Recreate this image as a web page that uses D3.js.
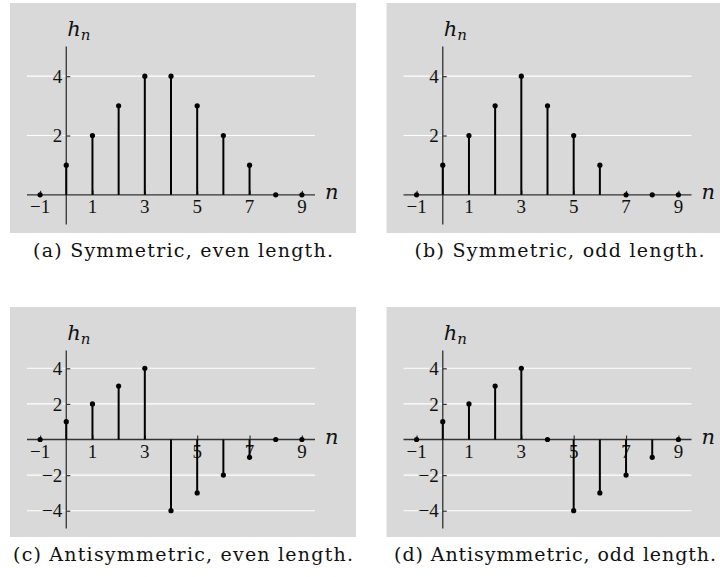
<!DOCTYPE html>
<html>
<head>
<meta charset="utf-8">
<script src="https://cdn.jsdelivr.net/npm/d3@7/dist/d3.min.js"></script>
<style>
  html, body { margin: 0; padding: 0; background: #ffffff; }
  svg { display: block; }
</style>
</head>
<body>
<svg id="chart" width="720" height="577"></svg>
<script>
// ---- data ----
const nValues = [-1, 0, 1, 2, 3, 4, 5, 6, 7, 8, 9];
const symEven  = [0, 1, 2, 3, 4, 4, 3, 2, 1, 0, 0];
const symOdd   = [0, 1, 2, 3, 4, 3, 2, 1, 0, 0, 0];
const antiEven = [0, 1, 2, 3, 4, -4, -3, -2, -1, 0, 0];
const antiOdd  = [0, 1, 2, 3, 4, 0, -4, -3, -2, -1, 0];
const xTicks = [-1, 1, 3, 5, 7, 9];
const yTicksSym = [2, 4];
const yTicksAnti = [-4, -2, 2, 4];
const captions = [
  "(a) Symmetric, even length.",
  "(b) Symmetric, odd length.",
  "(c) Antisymmetric, even length.",
  "(d) Antisymmetric, odd length."
];

const panels = [
  { ox: 10,    oy: 3,   values: symEven,  yDomain: [-1, 5], yTicks: yTicksSym,  caption: captions[0] },
  { ox: 386.5, oy: 3,   values: symOdd,   yDomain: [-1, 5], yTicks: yTicksSym,  caption: captions[1] },
  { ox: 10,    oy: 307, values: antiEven, yDomain: [-5, 5], yTicks: yTicksAnti, caption: captions[2] },
  { ox: 386.5, oy: 307, values: antiOdd,  yDomain: [-5, 5], yTicks: yTicksAnti, caption: captions[3] }
];

const BG = "#d9d9d9";
const AX = "#333333";
const TICKFONT = "'Liberation Serif', serif";
const CAPFONT = "'DejaVu Serif', serif";
const svg = d3.select("#chart");
const fmt = d => (d < 0 ? "\u2212" + Math.abs(d) : String(d));

const capNodes = [];

panels.forEach(p => {
  const g = svg.append("g").attr("transform", `translate(${p.ox},${p.oy})`);
  g.append("rect").attr("x", 0).attr("y", 0).attr("width", 346).attr("height", 230).attr("fill", BG);

  const x = d3.scaleLinear().domain([-1.5, 9.5]).range([17, 305]);
  const y = d3.scaleLinear().domain(p.yDomain).range([221.5, 43.5]);
  const x0 = x(0), y0 = y(0);

  // gridlines
  g.selectAll("line.grid").data(p.yTicks).join("line")
    .attr("class", "grid")
    .attr("x1", x.range()[0]).attr("x2", x.range()[1])
    .attr("y1", d => y(d)).attr("y2", d => y(d))
    .attr("stroke", "#ffffff").attr("stroke-width", 1.1);

  // x axis (ticks inward / up)
  const xAxis = d3.axisTop(x).tickValues(xTicks).tickSize(4).tickFormat("");
  const xa = g.append("g").attr("transform", `translate(0,${y0})`).call(xAxis);
  xa.select(".domain").attr("d", `M${x.range()[0]},0H${x.range()[1]}`).attr("stroke", AX).attr("stroke-width", 1.3);
  xa.selectAll(".tick line").attr("stroke", AX).attr("stroke-width", 1.2);

  // y axis (ticks inward / right)
  const yAxis = d3.axisRight(y).tickValues(p.yTicks).tickSize(4).tickFormat("");
  const ya = g.append("g").attr("transform", `translate(${x0},0)`).call(yAxis);
  ya.select(".domain").attr("d", `M0,${y.range()[0]}V${y.range()[1]}`).attr("stroke", AX).attr("stroke-width", 1.3);
  ya.selectAll(".tick line").attr("stroke", AX).attr("stroke-width", 1.2);

  // y tick labels
  g.selectAll("text.ylab").data(p.yTicks).join("text")
    .attr("class", "ylab")
    .attr("x", x0 - 4).attr("y", d => y(d))
    .attr("dy", "0.35em")
    .attr("text-anchor", "end")
    .style("font-family", TICKFONT).style("font-size", "19px").attr("fill", "#111")
    .attr("stroke", BG).attr("stroke-width", 3).attr("paint-order", "stroke")
    .text(fmt);

  // x tick labels
  g.selectAll("text.xlab").data(xTicks).join("text")
    .attr("class", "xlab")
    .attr("x", d => x(d)).attr("y", y0 + 18)
    .attr("text-anchor", "middle")
    .style("font-family", TICKFONT).style("font-size", "19px").attr("fill", "#111")
    .text(fmt);

  // stems
  const pts = nValues.map((n, i) => ({ n, v: p.values[i] }));
  g.selectAll("line.stem").data(pts.filter(d => d.v !== 0)).join("line")
    .attr("class", "stem")
    .attr("x1", d => x(d.n)).attr("x2", d => x(d.n))
    .attr("y1", y0).attr("y2", d => y(d.v))
    .attr("stroke", "#000").attr("stroke-width", 2);

  // dots
  g.selectAll("circle.dot").data(pts).join("circle")
    .attr("class", "dot")
    .attr("cx", d => x(d.n)).attr("cy", d => y(d.v))
    .attr("r", 2.6).attr("fill", "#000");

  // axis labels
  g.append("text")
    .attr("x", x.range()[1] + 10).attr("y", y0 + 4)
    .style("font-family", CAPFONT).style("font-style", "italic").style("font-size", "21px").attr("fill", "#111")
    .text("n");
  const hl = g.append("text")
    .attr("x", x0 + 1).attr("y", 33)
    .style("font-family", CAPFONT).style("font-style", "italic").style("font-size", "21px").attr("fill", "#111");
  hl.append("tspan").text("h");
  hl.append("tspan").style("font-size", "15px").attr("dy", 4).text("n");

  // caption
  const cap = g.append("text")
    .attr("x", 173).attr("y", 254)
    .attr("text-anchor", "middle")
    .style("font-family", CAPFONT).style("font-size", "19px").attr("fill", "#111")
    .text(p.caption);
  capNodes.push({ cap, ox: p.ox });
});

// widen captions uniformly so caption (a) spans ~300px like the reference,
// but keep every caption inside the 720px page
const baseLen = capNodes[0].cap.node().getComputedTextLength();
const k = 300 / baseLen;
capNodes.forEach(({ cap, ox }) => {
  let L = cap.node().getComputedTextLength() * k;
  const cx = ox + 173;
  if (cx + L / 2 > 716) {
    // anchor at the start (as in the reference) and fit before the right edge
    const start = Math.max(ox + 2.5, cx - L / 2);
    L = 716 - start;
    cap.attr("text-anchor", "start").attr("x", start - ox);
  }
  cap.attr("textLength", L).attr("lengthAdjust", "spacing");
});
</script>
</body>
</html>
